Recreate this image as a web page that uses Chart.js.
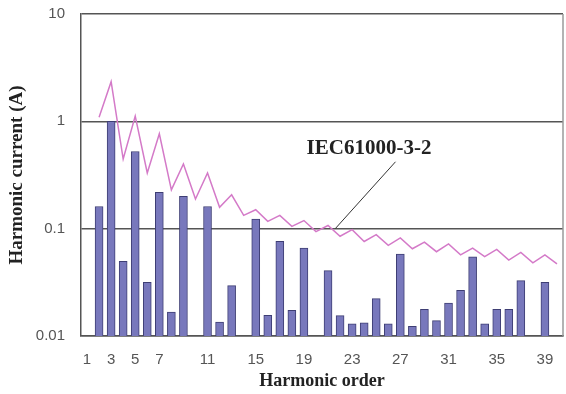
<!DOCTYPE html>
<html lang="en">
<head>
    <meta charset="UTF-8">
    <title>Harmonic current</title>
    <script src="https://cdn.jsdelivr.net/npm/chart.js"></script>
    <style>
        body {
            margin: 0;
            background: #fff;
        }

        .wrap {
            width: 566px;
            height: 394px;
        }
    </style>
</head>
<body>
    <div class="wrap">
        <canvas id="harmonicChart" width="566" height="394"></canvas>
    </div>

    <script>
        // measured harmonic currents (A)
        const barOrders = [2, 3, 4, 5, 6, 7, 8, 9, 11, 12, 13, 15, 16, 17, 18, 19, 21, 22, 23, 24, 25, 26, 27, 28, 29, 30, 31, 32, 33, 34, 35, 36, 37, 39];
        const barValues = [0.161, 1.0, 0.0497, 0.524, 0.0316, 0.218, 0.0167, 0.2, 0.161, 0.0135, 0.0295, 0.123, 0.0156, 0.0762, 0.0173, 0.066, 0.0407, 0.0155, 0.013, 0.0133, 0.0223, 0.013, 0.058, 0.0123, 0.0177, 0.0139, 0.0203, 0.0267, 0.0546, 0.013, 0.0177, 0.0177, 0.0328, 0.0316];

        // IEC61000-3-2 limit line, orders 2..40
        const limitOrders = [2, 3, 4, 5, 6, 7, 8, 9, 10, 11, 12, 13, 14, 15, 16, 17, 18, 19, 20, 21, 22, 23, 24, 25, 26, 27, 28, 29, 30, 31, 32, 33, 34, 35, 36, 37, 38, 39, 40];
        const limitValues = [1.09, 2.34, 0.445, 1.12, 0.33, 0.765, 0.23, 0.40, 0.189, 0.33, 0.158, 0.207, 0.133, 0.15, 0.117, 0.133, 0.105, 0.119, 0.094, 0.107, 0.085, 0.098, 0.076, 0.088, 0.07, 0.082, 0.065, 0.075, 0.061, 0.072, 0.057, 0.066, 0.055, 0.064, 0.051, 0.06, 0.048, 0.057, 0.047];

        const xTickValues = [1, 3, 5, 7, 11, 15, 19, 23, 27, 31, 35, 39];
        const yTickValues = [0.01, 0.1, 1, 10];
        const yTickLabels = ["0.01", "0.1", "1", "10"];

        const limitLabel = "IEC61000-3-2";

        // frame on the right + the label with its leader line
        const extrasPlugin = {
            id: "extras",
            afterDatasetsDraw(chart) {
                const { ctx, chartArea, scales } = chart;
                ctx.save();
                ctx.strokeStyle = "#9a9a9a";
                ctx.lineWidth = 1.5;
                ctx.beginPath();
                ctx.moveTo(chartArea.right, chartArea.top);
                ctx.lineTo(chartArea.right, chartArea.bottom);
                ctx.stroke();

                const x = scales.x, y = scales.y;
                ctx.strokeStyle = "#333";
                ctx.lineWidth = 1;
                ctx.beginPath();
                ctx.moveTo(x.getPixelForValue(26.6), y.getPixelForValue(0.42));
                ctx.lineTo(x.getPixelForValue(21.6), y.getPixelForValue(0.1));
                ctx.stroke();

                ctx.fillStyle = "#222";
                ctx.font = "bold 21px 'Liberation Serif'";
                ctx.textAlign = "center";
                ctx.textBaseline = "alphabetic";
                ctx.fillText(limitLabel, x.getPixelForValue(24.4), y.getPixelForValue(0.5));
                ctx.restore();
            }
        };

        const ctx = document.getElementById("harmonicChart").getContext("2d");
        new Chart(ctx, {
            type: "bar",
            data: {
                datasets: [
                    {
                        type: "line",
                        label: "IEC61000-3-2",
                        data: limitOrders.map((h, i) => ({ x: h, y: limitValues[i] })),
                        borderColor: "#d47ac8",
                        borderWidth: 1.5,
                        pointRadius: 0,
                        tension: 0,
                        fill: false
                    },
                    {
                        label: "Harmonic current",
                        data: barOrders.map((h, i) => ({ x: h, y: barValues[i] })),
                        backgroundColor: "#7878bc",
                        borderColor: "#3e3e74",
                        borderWidth: 1,
                        borderSkipped: "bottom",
                        barThickness: 8
                    }
                ]
            },
            options: {
                responsive: false,
                animation: false,
                layout: {
                    padding: { top: 14, right: 3, left: 0, bottom: 0 }
                },
                plugins: {
                    legend: { display: false },
                    tooltip: { enabled: false }
                },
                scales: {
                    x: {
                        type: "linear",
                        min: 0.5,
                        max: 40.5,
                        offset: false,
                        afterBuildTicks: (scale) => {
                            scale.ticks = xTickValues.map(v => ({ value: v }));
                        },
                        afterFit: (scale) => {
                            scale.height = 58;
                        },
                        grid: { display: false },
                        border: { display: true, color: "#555", width: 1.5 },
                        ticks: {
                            autoSkip: false,
                            maxRotation: 0,
                            padding: 7,
                            color: "#555",
                            font: { family: "'Liberation Sans'", size: 15 }
                        },
                        title: {
                            display: true,
                            text: "Harmonic order",
                            color: "#222",
                            padding: { top: 0, bottom: 2 },
                            font: { family: "'Liberation Serif'", size: 18, weight: "bold" }
                        }
                    },
                    y: {
                        type: "logarithmic",
                        min: 0.01,
                        max: 10,
                        afterBuildTicks: (scale) => {
                            scale.ticks = yTickValues.map(v => ({ value: v }));
                        },
                        afterFit: (scale) => {
                            scale.width = 81;
                        },
                        grid: {
                            color: "#555",
                            lineWidth: 1.5,
                            tickLength: 14,
                            tickColor: "rgba(0,0,0,0)"
                        },
                        border: { display: true, color: "#555", width: 1.5 },
                        ticks: {
                            padding: 2,
                            color: "#555",
                            font: { family: "'Liberation Sans'", size: 15 },
                            callback: (value) => {
                                const i = yTickValues.indexOf(value);
                                return i >= 0 ? yTickLabels[i] : "";
                            }
                        },
                        title: {
                            display: true,
                            text: "Harmonic current (A)",
                            color: "#222",
                            padding: { top: 6, bottom: 0 },
                            font: { family: "'Liberation Serif'", size: 19, weight: "bold" }
                        }
                    }
                }
            },
            plugins: [extrasPlugin]
        });
    </script>
</body>
</html>
